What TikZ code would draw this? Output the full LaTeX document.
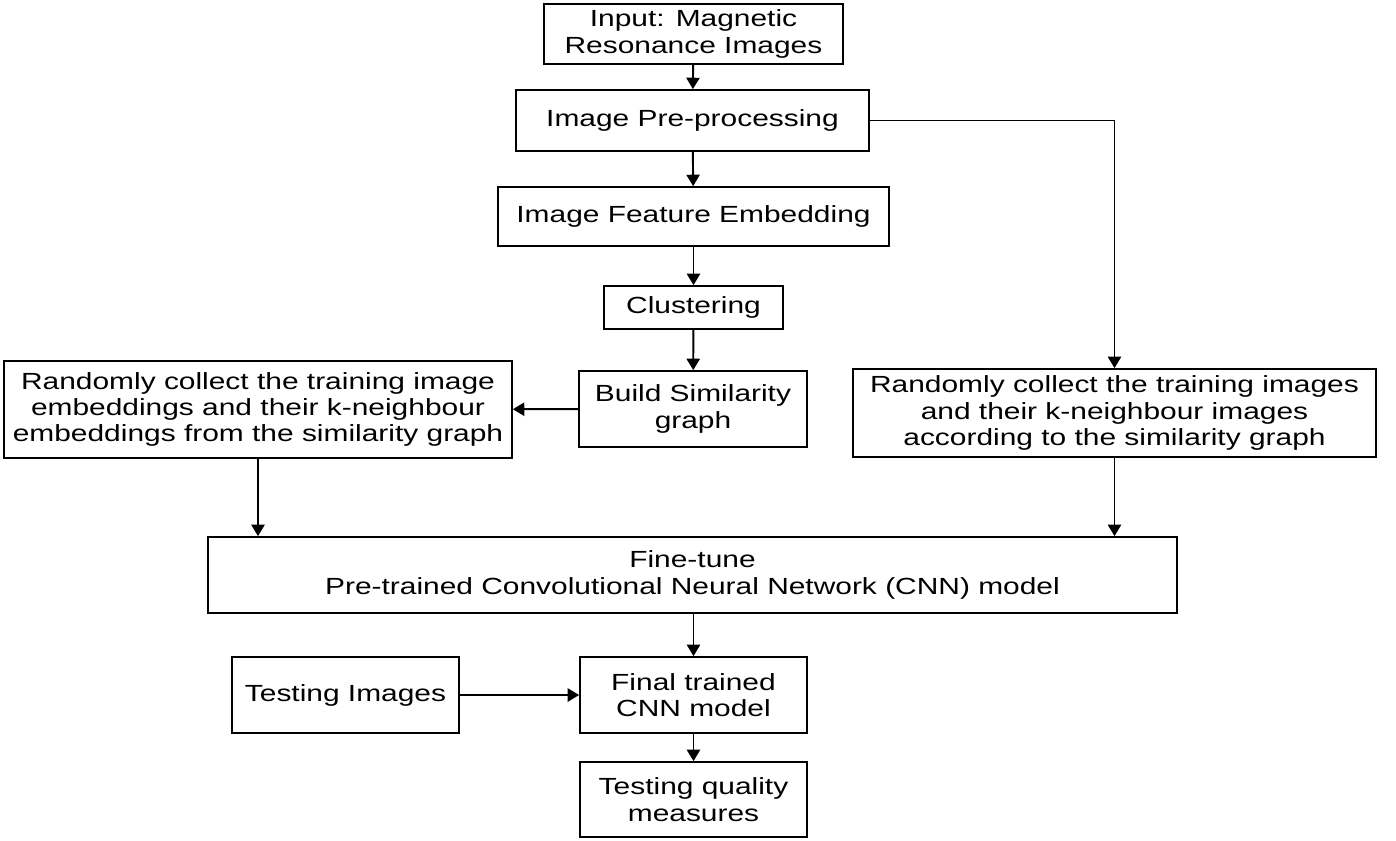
\documentclass[tikz,border=0pt]{standalone}
\usepackage{fontspec}
\setmainfont{Liberation Sans}[FakeStretch=1.28]
\usepackage{tikz}
\usetikzlibrary{arrows.meta}

\tikzset{
  box/.style={draw, line width=1pt, align=center, inner sep=0pt,
    font=\fontsize{13.3}{15}\selectfont},
  flow/.style={-{Triangle[length=6.5pt,width=7.5pt]}, line width=1.1pt}
}

\begin{document}
\begin{tikzpicture}[x=0.02cm, y=-0.02cm]

\useasboundingbox (0,0) rectangle (1396,840);

\node[box, minimum width=5.98cm, minimum height=1.2cm] (inp) at (693.5,34) {Input: Magnetic\\Resonance Images};
\node[box, minimum width=7.06cm, minimum height=1.22cm] (pre) at (692.5,120.5) {Image Pre-processing};
\node[box, minimum width=7.82cm, minimum height=1.18cm] (feat) at (693.5,216.5) {Image Feature Embedding};
\node[box, minimum width=3.58cm, minimum height=0.86cm] (clus) at (693.5,307.5) {Clustering};
\node[box, minimum width=4.56cm, minimum height=1.52cm] (sim) at (693,409) {Build Similarity\\graph};

\node[box, minimum width=10.16cm, minimum height=1.94cm] (lbox) at (258,409.5) {Randomly collect the training image\\embeddings and their k-neighbour\\embeddings from the similarity graph};
\node[box, minimum width=10.46cm, minimum height=1.76cm] (rbox) at (1114.5,413) {Randomly collect the training images\\and their k-neighbour images\\according to the similarity graph};

\node[box, minimum width=19.38cm, minimum height=1.52cm] (tune) at (692.5,575) {Fine-tune\\Pre-trained Convolutional Neural Network (CNN) model};

\node[box, minimum width=4.54cm, minimum height=1.52cm] (test) at (345.5,695) {Testing Images};
\node[box, minimum width=4.54cm, minimum height=1.52cm] (final) at (693.5,695) {Final trained\\CNN model};
\node[box, minimum width=4.54cm, minimum height=1.5cm] (qual) at (693.5,799.5) {Testing quality\\measures};

\draw[flow] (inp) -- (pre);
\draw[flow] (pre) -- (feat);
\draw[flow] (feat) -- (clus);
\draw[flow] (clus) -- (sim);
\draw[flow] (sim) -- (lbox);
\draw[flow] (pre.east) -| (rbox.north);
\draw[flow] (lbox.south) -- (lbox.south |- tune.north);
\draw[flow] (rbox.south) -- (rbox.south |- tune.north);
\draw[flow] (tune.south -| final.north) -- (final);
\draw[flow] (test) -- (final);
\draw[flow] (final) -- (qual);

\end{tikzpicture}
\end{document}
